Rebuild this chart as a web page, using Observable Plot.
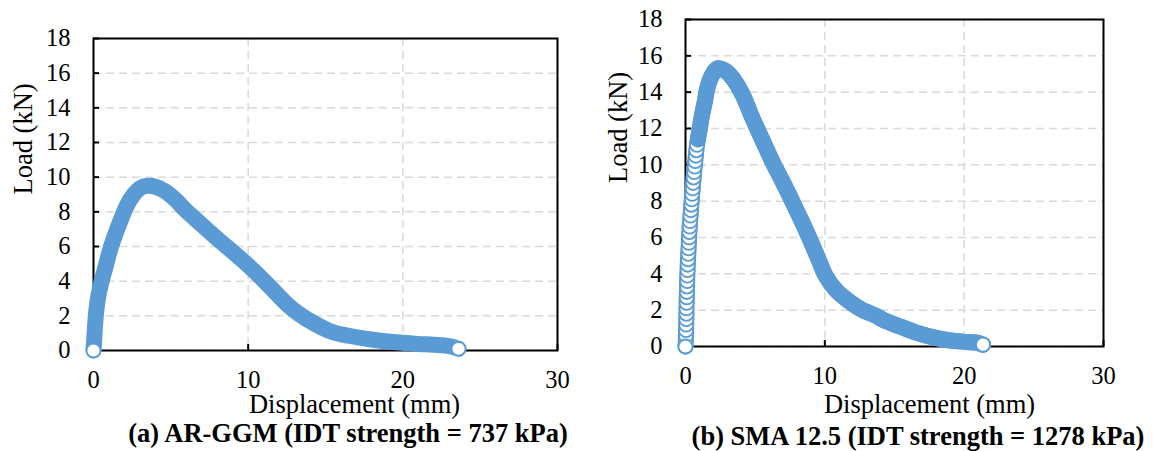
<!DOCTYPE html>
<html><head><meta charset="utf-8">
<script src="https://cdn.jsdelivr.net/npm/d3@7"></script>
<script src="https://cdn.jsdelivr.net/npm/@observablehq/plot@0.6"></script>
<style>
body{margin:0;background:#fff;}
#wrap{position:relative;width:1153px;height:451px;overflow:hidden;font-family:"Liberation Serif","Times New Roman",serif;color:#000;}
.chart{position:absolute;top:0;}
.cap{position:absolute;font-weight:bold;font-size:26.5px;line-height:26px;white-space:nowrap;transform:translateX(-50%);}
</style></head><body>
<div id="wrap"></div>
<script>
// ---- data ----
const xTicks = [0, 10, 20, 30];
const yTicks = [0, 2, 4, 6, 8, 10, 12, 14, 16, 18];
const xLabel = "Displacement (mm)";
const yLabel = "Load (kN)";
const captionA = "(a) AR-GGM (IDT strength = 737 kPa)";
const captionB = "(b) SMA 12.5 (IDT strength = 1278 kPa)";

// (a) AR-GGM
const dispA = [0, 0.07, 0.15, 0.28, 0.5, 0.8, 1.1, 1.45, 1.75, 2.05, 2.4, 2.8, 3.2, 3.56, 4.0, 4.6, 5.3, 5.93, 7.0, 8.08, 9.0, 10.02, 11.0, 11.96, 12.6, 13.3, 14.3, 15.4, 16.5, 17.67, 18.7, 19.83, 21.0, 22.0, 23.0, 23.6];
const loadA = [0, 1.0, 2.0, 2.97, 3.9, 4.9, 5.9, 6.8, 7.5, 8.16, 8.75, 9.2, 9.45, 9.5, 9.45, 9.2, 8.7, 8.12, 7.25, 6.39, 5.7, 4.89, 4.05, 3.16, 2.6, 2.1, 1.55, 1.08, 0.85, 0.67, 0.55, 0.46, 0.38, 0.33, 0.25, 0.1];

// (b) SMA 12.5
const dispB = [0, 0.02, 0.03, 0.04, 0.05, 0.06, 0.07, 0.07, 0.08, 0.09, 0.1, 0.11, 0.12, 0.13, 0.15, 0.16, 0.18, 0.2, 0.22, 0.24, 0.26, 0.28, 0.3, 0.33, 0.36, 0.39, 0.42, 0.45, 0.48, 0.52, 0.55, 0.58, 0.62, 0.66, 0.7, 0.74, 0.78, 0.83, 0.89,
  0.96, 1.15, 1.39, 1.56, 1.85, 2.27, 2.8, 3.35, 4.07, 4.79, 5.5, 6.22, 6.95, 7.66, 8.4, 9.1, 9.6, 10.05, 10.8, 11.72, 12.6, 13.64, 14.24, 15.4, 16.63, 17.8, 19.02, 20.2, 21.0, 21.35];
const loadB = [0, 0.3, 0.6, 0.9, 1.2, 1.5, 1.8, 2.1, 2.4, 2.7, 3.0, 3.3, 3.6, 3.9, 4.2, 4.5, 4.8, 5.1, 5.4, 5.7, 6.0, 6.3, 6.6, 6.9, 7.2, 7.5, 7.8, 8.1, 8.4, 8.7, 9.0, 9.3, 9.6, 9.9, 10.2, 10.5, 10.8, 11.1, 11.4,
  11.7, 12.6, 13.5, 14.2, 14.85, 15.3, 15.2, 14.8, 13.9, 12.6, 11.4, 10.2, 9.1, 8.0, 6.8, 5.6, 4.7, 3.9, 3.1, 2.5, 2.05, 1.7, 1.45, 1.1, 0.75, 0.5, 0.33, 0.25, 0.2, 0.1];

const blue = "#5B9BD5";

function drawChart(o) {
  const n = o.disp.length;
  const idx = d3.range(n);
  const ringEnd = o.ringsBelow == null ? 0 : o.load.findIndex(v => v > o.ringsBelow);
  const rings = idx.slice(0, ringEnd);
  const tail = idx.slice(Math.max(ringEnd - 1, 0));
  const ends = [0, n - 1];
  const X = i => o.disp[i], Y = i => o.load[i];
  const band = {x: X, y: Y, stroke: blue, strokeWidth: 16, strokeLinecap: "round", strokeLinejoin: "round", curve: "catmull-rom"};
  const dot = {x: X, y: Y, r: 7, fill: "white", stroke: blue, strokeWidth: 1.8};
  const grid = {stroke: "#d9d9d9", strokeOpacity: 1, strokeWidth: 1.5, strokeDasharray: "8,5"};
  const marks = [
    Plot.gridY(yTicks, grid),
    Plot.gridX(xTicks, grid),
    Plot.frame({stroke: "black", strokeWidth: 2}),
    Plot.axisY(yTicks, {anchor: "left", tickSize: 6, dx: 6, tickFormat: () => "", strokeWidth: 2, label: null}),
    Plot.axisX(xTicks, {anchor: "bottom", tickSize: 6, dy: -6, tickFormat: () => "", strokeWidth: 2, label: null}),
    Plot.axisY(yTicks, {anchor: "left", tickSize: 0, tickPadding: 23, fontSize: 24.5, label: null}),
    Plot.axisX(xTicks, {anchor: "bottom", tickSize: 0, tickPadding: o.xPad, fontSize: 24.5, label: null}),
    Plot.text([yLabel], {text: d => d, frameAnchor: "left", lineAnchor: "middle", rotate: -90, dx: o.yTitleDx, fontSize: 26.5}),
    Plot.text([xLabel], {text: d => d, frameAnchor: "bottom", lineAnchor: "middle", dx: o.xTitleDx, dy: o.xTitleDy, fontSize: 26.5}),
    Plot.line(idx, band)
  ];
  if (rings.length) {
    marks.push(Plot.dot(rings, dot));
    marks.push(Plot.line(tail, band));
  }
  marks.push(Plot.dot(ends, dot));
  return Plot.plot({
    width: o.width, height: o.height,
    marginLeft: o.mL, marginRight: o.mR, marginTop: o.mT, marginBottom: o.mB,
    x: {domain: [0, 30], axis: null},
    y: {domain: [0, 18], axis: null},
    style: {fontFamily: "Liberation Serif, Times New Roman, serif", color: "black", background: "white", overflow: "visible"},
    marks
  });
}

const wrap = document.getElementById("wrap");
const a = drawChart({disp: dispA, load: loadA, width: 576, height: 420, mL: 93, mR: 19, mT: 38, mB: 70, xPad: 20, yTitleDx: -70, xTitleDx: 29, xTitleDy: 54});
a.classList.add("chart"); a.style.left = "0px";
wrap.appendChild(a);
const b = drawChart({disp: dispB, load: loadB, ringsBelow: 11.5, width: 577, height: 420, mL: 109, mR: 50, mT: 19, mB: 74, xPad: 20, yTitleDx: -67, xTitleDx: 35, xTitleDy: 58});
b.classList.add("chart"); b.style.left = "576px";
wrap.appendChild(b);

function cap(text, cx, top) {
  const d = document.createElement("div");
  d.className = "cap"; d.textContent = text;
  d.style.left = cx + "px"; d.style.top = top + "px";
  wrap.appendChild(d);
}
cap(captionA, 348, 420);
cap(captionB, 918, 423);
</script>
</body></html>
